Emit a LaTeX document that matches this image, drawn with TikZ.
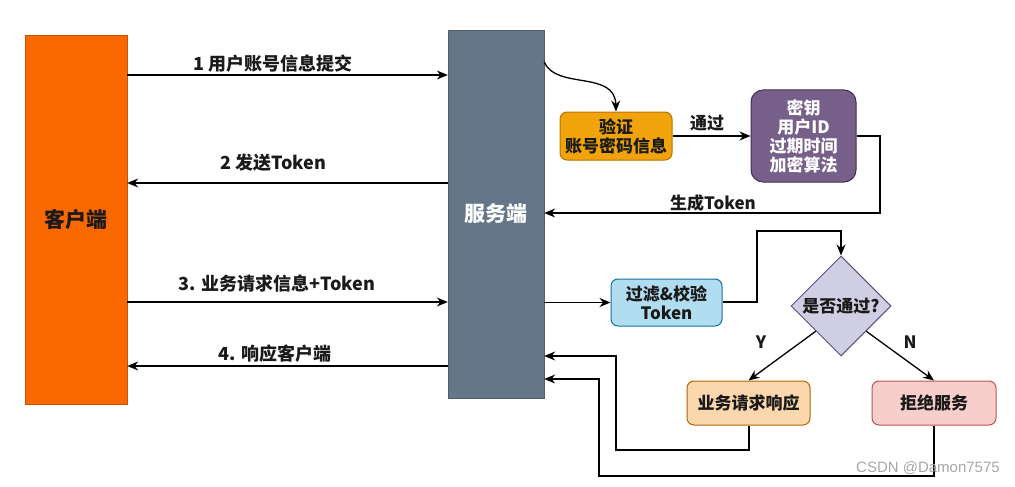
\documentclass[tikz,border=0pt]{standalone}
\usepackage{fontspec}
\setmainfont{Noto Sans CJK SC}
\newfontfamily\wmfont{Liberation Sans}
\usetikzlibrary{shapes.geometric,arrows.meta,calc}
\definecolor{cliOrange}{HTML}{FA6800}
\definecolor{srvGray}{HTML}{647687}
\definecolor{verFill}{HTML}{F0A30A}
\definecolor{verLine}{HTML}{BD7000}
\definecolor{purFill}{HTML}{76608A}
\definecolor{purLine}{HTML}{432D57}
\definecolor{bluFill}{HTML}{B1DDF0}
\definecolor{bluLine}{HTML}{10739E}
\definecolor{lavFill}{HTML}{D0CEE2}
\definecolor{lavLine}{HTML}{56517E}
\definecolor{bizFill}{HTML}{FAD7AC}
\definecolor{bizLine}{HTML}{B46504}
\definecolor{rejFill}{HTML}{F8CECC}
\definecolor{rejLine}{HTML}{B85450}
\definecolor{txt}{HTML}{1A1A1A}
\tikzset{
  arr/.style={line width=1.3pt,-{Stealth[length=11pt,width=9pt]}},
  lbl/.style={font=\bfseries\fontsize{17}{19}\selectfont,text=txt,inner sep=0pt},
  bigbox/.style={rectangle,inner sep=0pt,font=\bfseries\fontsize{21}{24}\selectfont},
  rbox/.style={rectangle,rounded corners=7pt,line width=1pt,inner sep=0pt,align=center,
    font=\bfseries\fontsize{17}{19}\selectfont,text=txt},
}
\begin{document}
\begin{tikzpicture}[x=1pt,y=-1pt]
\useasboundingbox (0,0) rectangle (1015,487);
% main boxes
\node[bigbox,fill=cliOrange,draw=cliOrange!80!black,minimum width=102pt,minimum height=369pt,text=txt] (client) at (76,219.5) {客户端};
\node[bigbox,fill=srvGray,draw=srvGray!80!black,minimum width=96pt,minimum height=368pt,text=white] (server) at (496,214) {服务端};
% side boxes
\node[rbox,fill=verFill,draw=verLine,minimum width=112pt,minimum height=48pt] (verify) at (616,136) {验证\\账号密码信息};
\node[rbox,fill=purFill,draw=purLine,minimum width=105pt,minimum height=92pt,text=white,rounded corners=12pt] (keyinfo) at (803.5,136) {密钥\\用户ID\\过期时间\\加密算法};
\node[rbox,fill=bluFill,draw=bluLine,minimum width=111pt,minimum height=47pt] (filter) at (666.5,302.5) {过滤\&校验\\Token};
\node[diamond,fill=lavFill,draw=lavLine,line width=1pt,minimum width=100pt,minimum height=100pt,inner sep=0pt,
  font=\bfseries\fontsize{17}{19}\selectfont,text=txt] (check) at (841,306) {是否通过?};
\node[rbox,fill=bizFill,draw=bizLine,minimum width=123pt,minimum height=44pt] (biz) at (748.5,403) {业务请求响应};
\node[rbox,fill=rejFill,draw=rejLine,minimum width=124pt,minimum height=44pt] (reject) at (934,403) {拒绝服务};
% client-server arrows
\draw[arr] (client.east |- 0,75) -- (server.west |- 0,75);
\node[lbl,font=\bfseries\fontsize{18}{20}\selectfont] (l1) at (273,64) {1 用户账号信息提交};
\draw[arr] (server.west |- 0,183) -- (client.east |- 0,183);
\node[lbl,font=\bfseries\fontsize{18}{20}\selectfont] (l2) at (273,163) {2 发送Token};
\draw[arr] (client.east |- 0,302) -- (server.west |- 0,302);
\node[lbl,font=\bfseries\fontsize{18}{20}\selectfont] (l3) at (277,284) {3. 业务请求信息+Token};
\draw[arr] (server.west |- 0,366) -- (client.east |- 0,366);
\node[lbl,font=\bfseries\fontsize{18}{20}\selectfont] (l4) at (275,354) {4. 响应客户端};
% server -> verify
\coordinate (s1) at (server.east |- 0,62);
\draw[arr] (s1) .. controls (556,90) and (615,70) .. (verify.north);
% verify -> keyinfo
\draw[arr] (verify.east) -- (keyinfo.west);
\node[lbl] (pass) at (707,123) {通过};
% keyinfo -> server
\coordinate (k1) at (880,136);
\coordinate (k2) at (880,213);
\draw[arr] (keyinfo.east) -- (k1) -- (k2) -- (server.east |- k2);
\node[lbl] (gen) at (713,203) {生成Token};
% server -> filter
\draw[arr] (server.east |- filter.west) -- (filter.west);
% filter -> check
\coordinate (f1) at (757,302);
\coordinate (f2) at (757,231);
\coordinate (f3) at (841,231);
\draw[arr] (filter.east |- f1) -- (f1) -- (f2) -- (f3) -- (check.north);
% check -> biz / reject
\draw[arr] (check.south west) -- (biz.north);
\node[lbl] (ylab) at (761,342) {Y};
\draw[arr] (check.south east) -- (reject.north);
\node[lbl] (nlab) at (910,342) {N};
% returns
\coordinate (b1) at (749,450);
\coordinate (b2) at (616,450);
\coordinate (b3) at (616,356);
\draw[arr] (biz.south -| b1) -- (b1) -- (b2) -- (b3) -- (server.east |- b3);
\coordinate (r1) at (934,476);
\coordinate (r2) at (599,476);
\coordinate (r3) at (599,379);
\draw[arr] (reject.south) -- (r1) -- (r2) -- (r3) -- (server.east |- r3);
% watermark
\node[inner sep=0pt,text=black!35,font=\wmfont\fontsize{15}{17}\selectfont,anchor=east] (wm) at (1000,468) {CSDN @Damon7575};
\end{tikzpicture}
\end{document}
